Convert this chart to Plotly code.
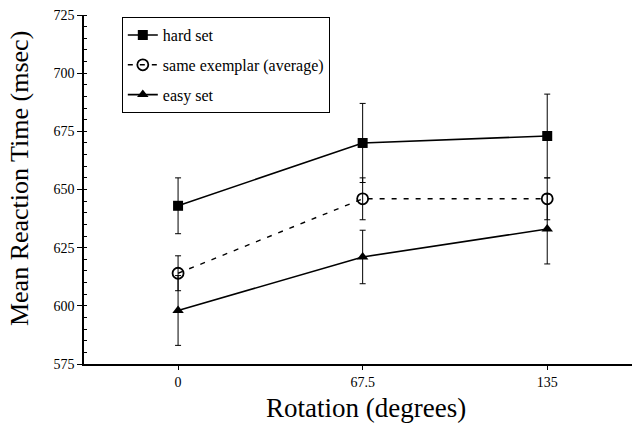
import plotly.graph_objects as go

# Rotation conditions (degrees)
rotation = [0, 67.5, 135]

# Mean reaction times (msec) and error-bar half-widths
hard_rt = [643, 670, 673]
hard_err = [12, 17, 18]
same_rt = [614, 646, 646]
same_err = [7.5, 9, 9]
easy_rt = [598, 621, 633]
easy_err = [15, 11.5, 15]

y_ticks = [575, 600, 625, 650, 675, 700, 725]
x_labels = ["0", "67.5", "135"]

SERIF = "Liberation Serif, Times New Roman, serif"


def err(vals):
    return dict(type="data", array=vals, visible=True, color="black",
                thickness=1, width=3)


fig = go.Figure()
fig.add_trace(go.Scatter(
    x=rotation, y=hard_rt, name="hard set", legendgroup="a",
    mode="lines+markers",
    line=dict(color="black", width=1.6),
    marker=dict(symbol="square", size=10, color="black"),
    error_y=err(hard_err),
))
fig.add_trace(go.Scatter(
    x=rotation, y=same_rt, name="same exemplar (average)", legendgroup="b",
    mode="lines+markers",
    line=dict(color="black", width=1.4, dash="5px,7px"),
    marker=dict(symbol="circle-open", size=11, color="black",
                line=dict(width=1.8, color="black")),
    error_y=err(same_err),
))
fig.add_trace(go.Scatter(
    x=rotation, y=easy_rt, name="easy set", legendgroup="c",
    mode="lines+markers",
    line=dict(color="black", width=1.6),
    marker=dict(symbol="triangle-up", size=10, color="black"),
    error_y=err(easy_err),
))

fig.update_layout(
    width=635, height=424,
    margin=dict(l=84, r=3, t=15, b=60),
    paper_bgcolor="white", plot_bgcolor="white",
    font=dict(family=SERIF, color="black"),
    showlegend=True,
    legend=dict(
        x=0.069, y=0.994, xanchor="left", yanchor="top",
        bgcolor="white", bordercolor="black", borderwidth=1,
        font=dict(family=SERIF, size=16, color="black"),
        tracegroupgap=6, traceorder="grouped",
    ),
    annotations=[
        dict(text="Rotation (degrees)", xref="paper", yref="paper",
             x=0.5155, y=-0.126, xanchor="center", yanchor="middle",
             showarrow=False, font=dict(family=SERIF, size=27, color="black")),
        dict(text="Mean Reaction Time (msec)", xref="paper", yref="paper",
             x=-0.1186, y=0.530, xanchor="center", yanchor="middle",
             textangle=-90, showarrow=False,
             font=dict(family=SERIF, size=26, color="black")),
    ],
)

fig.update_xaxes(
    range=[-34.4, 166], tickvals=rotation, ticktext=x_labels,
    showline=True, linecolor="black", linewidth=1.5, mirror=False,
    showgrid=False, zeroline=False,
    ticks="outside", ticklen=4, tickcolor="black",
    tickfont=dict(family=SERIF, size=14, color="black"),
)
fig.update_yaxes(
    range=[575, 725], tickvals=y_ticks,
    showline=True, linecolor="black", linewidth=1.5, mirror=False,
    showgrid=False, zeroline=False,
    ticks="outside", ticklen=5, tickcolor="black",
    tickfont=dict(family=SERIF, size=14, color="black"),
    minor=dict(dtick=5, ticks="inside", ticklen=3, tickcolor="black",
               showgrid=False),
)

fig.write_html("out.html")
